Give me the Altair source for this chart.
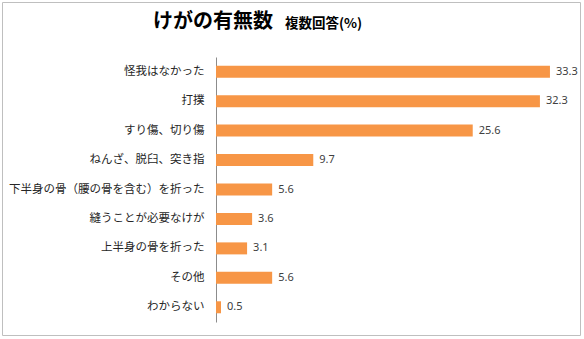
import altair as alt
import pandas as pd

categories = [
    "怪我はなかった",
    "打撲",
    "すり傷、切り傷",
    "ねんざ、脱臼、突き指",
    "下半身の骨（腰の骨を含む）を折った",
    "縫うことが必要なけが",
    "上半身の骨を折った",
    "その他",
    "わからない",
]
values = [33.3, 32.3, 25.6, 9.7, 5.6, 3.6, 3.1, 5.6, 0.5]
title_text = "けがの有無数"
subtitle_text = "複数回答(%)"

df = pd.DataFrame({"cat": categories, "val": values})
df["lab"] = [f"{v:.1f}" for v in values]

W, H = 351, 265
FONT = "Noto Sans CJK JP"

y_enc = alt.Y(
    "cat:N",
    sort=categories,
    scale=alt.Scale(paddingInner=0, paddingOuter=0),
    axis=alt.Axis(
        title=None,
        ticks=False,
        labelPadding=12,
        labelFont=FONT,
        labelFontSize=11.5,
        labelColor="#262626",
        domainColor="#8c8c8c",
        labelLimit=300,
    ),
)
x_enc = alt.X("val:Q", scale=alt.Scale(domain=[0, 35]), axis=None)

base = alt.Chart(df)
bars = base.mark_bar(color="#F79646", size=12).encode(x=x_enc, y=y_enc)
labels = base.mark_text(
    align="left", baseline="middle", dx=6, font="Noto Sans", fontSize=11, color="#404040"
).encode(x=x_enc, y=y_enc, text="lab:N")

border = alt.Chart(pd.DataFrame({"a": [0]})).mark_rect(
    fill=None, stroke="#bfbfbf", strokeWidth=1
).encode(
    x=alt.value(-213.5), x2=alt.value(364.5), y=alt.value(-54.5), y2=alt.value(278.5)
)

t1 = alt.Chart(pd.DataFrame({"t": [title_text]})).mark_text(
    align="left", baseline="middle", font=FONT, fontSize=20, fontWeight="bold", color="#000000"
).encode(x=alt.value(-63), y=alt.value(-35), text="t:N")

t2 = alt.Chart(pd.DataFrame({"t": [subtitle_text]})).mark_text(
    align="left", baseline="middle", font=FONT, fontSize=13.5, fontWeight="bold", color="#000000"
).encode(x=alt.value(69), y=alt.value(-33), text="t:N")

chart = alt.layer(border, bars, labels, t1, t2).properties(
    width=W,
    height=H,
    autosize=alt.AutoSizeParams(type="none"),
    padding={"left": 216, "top": 57, "right": 17, "bottom": 17},
    background="white",
).configure_view(stroke=None)

chart.save("out.html", embed_options={"renderer": "svg", "actions": False})
